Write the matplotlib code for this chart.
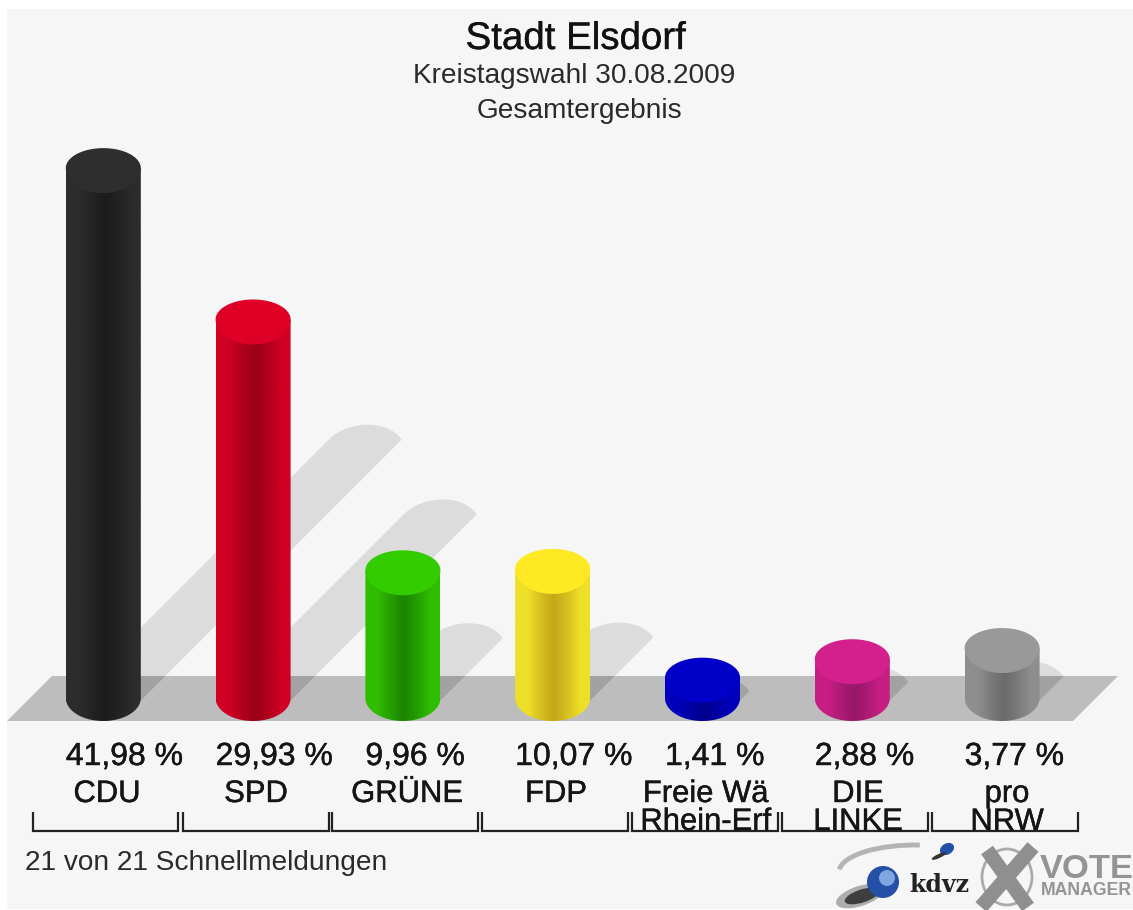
import numpy as np
import matplotlib
matplotlib.use("Agg")
import matplotlib.pyplot as plt
import matplotlib.patheffects as pe
from matplotlib.patches import Ellipse, Polygon, PathPatch, Rectangle, Circle, Arc
from matplotlib.path import Path
from matplotlib.colors import to_rgb

# ---- data ----
parties = ["CDU", "SPD", "GRÜNE", "FDP", "Freie Wä\nRhein-Erf", "DIE\nLINKE", "pro\nNRW"]
values = [41.98, 29.93, 9.96, 10.07, 1.41, 2.88, 3.77]
value_labels = ["41,98 %", "29,93 %", "9,96 %", "10,07 %", "1,41 %", "2,88 %", "3,77 %"]
top_colors = ["#2e2e2e", "#df0027", "#33cc00", "#ffe922", "#0000c8", "#d4208c", "#999999"]
edge_colors = ["#2c2c2c", "#cf0024", "#2fbd00", "#eedf28", "#0000bc", "#c81e84", "#8e8e8e"]
mid_colors = ["#1c1c1c", "#9c0018", "#1c8600", "#c4a818", "#000090", "#98186a", "#6c6c6c"]
title = "Stadt Elsdorf"
subtitle = "Kreistagswahl 30.08.2009"
subtitle2 = "Gesamtergebnis"
footer = "21 von 21 Schnellmeldungen"

W, H = 1133, 910
plt.rcParams["font.family"] = ["Liberation Sans", "DejaVu Sans"]
fig = plt.figure(figsize=(W / 100, H / 100), dpi=100, facecolor="white")

# pixel-space background axes
bg = fig.add_axes([0, 0, 1, 1], zorder=0)
bg.set_xlim(0, W); bg.set_ylim(H, 0); bg.axis("off")
bg.add_patch(Rectangle((7, 9), W - 7, 900, fc="#f6f6f6", ec="none"))
floor_xy = [(7, 721), (52, 676), (1118, 676), (1073, 721)]

# data axes: x = party index, y = percent
PXX, PXY = 149.8, 12.56   # pixels per category, pixels per percent
X0, Y0 = 103.3, 695.4
ax = fig.add_axes([0, 0, 1, 1], zorder=1)
ax.patch.set_alpha(0)
ax.axis("off")
xlim = (-X0 / PXX, (W - X0) / PXX)
ylim = ((Y0 - H) / PXY, Y0 / PXY)
hw = 37.5 / PXX
cap_up = 20 / PXY
cap_dn = 25 / PXY
base_v = (Y0 - 698) / PXY
base_eh = 23 / PXY


def sx(px):
    return px / PXX


def sy(px):
    return px / PXY


floor_data = [((x - X0) / PXX, (Y0 - y) / PXY) for x, y in floor_xy]
shadow_base = (Y0 - 700) / PXY

# shadows
for i, v in enumerate(values):
    d = 6.2 * v + 1
    cx_t, cy_t = i + sx(d), shadow_base + sy(d)
    verts = [(i - sx(36), shadow_base - sy(1)),
             (cx_t - sx(36), cy_t - sy(1)),
             (cx_t - sx(16), cy_t + sy(19)),
             (cx_t + sx(24), cy_t + sy(19)),
             (cx_t + sx(37), cy_t - sy(1)),
             (i + sx(37), shadow_base - sy(1)),
             (i - sx(36), shadow_base - sy(1))]
    codes = [Path.MOVETO, Path.LINETO, Path.CURVE4, Path.CURVE4, Path.CURVE4, Path.LINETO, Path.CLOSEPOLY]
    p = Path(verts, codes)
    ax.add_patch(PathPatch(p, fc="#dcdcdc", ec="none", zorder=1))
    dark = PathPatch(p, fc="#a2a2a2", ec="none", zorder=3)
    ax.add_patch(dark)
    shadow_floor = Polygon(floor_data, closed=True, fc="none", ec="none")
    ax.add_patch(shadow_floor)
    dark.set_clip_path(shadow_floor)

# floor
ax.add_patch(Polygon(floor_data, closed=True, fc="#bdbdbd", ec="none", zorder=2))

# cylinders
for i, v in enumerate(values):
    edge, mid = np.array(to_rgb(edge_colors[i])), np.array(to_rgb(mid_colors[i]))
    t = np.linspace(-1, 1, 151) - 0.04
    f = np.clip(np.abs(t) / 0.7, 0, 1)[:, None] ** 1.2
    grad = (mid + (edge - mid) * f)[None, :, :]
    th = np.linspace(0, np.pi, 60)
    outline = [(i - hw, v), (i - hw, base_v)]
    outline += [(i - hw * np.cos(a), base_v - base_eh * np.sin(a)) for a in th]
    outline += [(i + hw, v), (i - hw, v)]
    body = Polygon(outline, closed=True, fc="none", ec="none", zorder=4)
    ax.add_patch(body)
    im = ax.imshow(grad, extent=(i - hw, i + hw, base_v - base_eh, v), aspect="auto", zorder=4)
    im.set_clip_path(body)
    a = np.linspace(0, 2 * np.pi, 120)
    cap = [(i + hw * np.cos(b), v + (cap_up if np.sin(b) > 0 else cap_dn) * np.sin(b)) for b in a]
    ax.add_patch(Polygon(cap, closed=True, fc=top_colors[i], ec="none", zorder=5))

ax.set_xlim(*xlim)
ax.set_ylim(*ylim)

# texts in pixel space
ov = fig.add_axes([0, 0, 1, 1], zorder=2)
ov.patch.set_alpha(0)
ov.set_xlim(0, W); ov.set_ylim(H, 0); ov.axis("off")
tc = "#151515"
heavy = [pe.withStroke(linewidth=0.3, foreground=tc)]
ov.text(576, 49, title, ha="center", va="baseline", fontsize=27.7, color="#111111",
        path_effects=[pe.withStroke(linewidth=0.25, foreground="#111111")])
ov.text(574, 83, subtitle, ha="center", va="baseline", fontsize=20.2, color="#2a2a2a")
ov.text(579, 118, subtitle2, ha="center", va="baseline", fontsize=20.2, color="#2a2a2a")
ov.text(25, 870, footer, ha="left", va="baseline", fontsize=20.2, color="#2a2a2a")

bx0 = [33, 183, 332, 482, 632, 782, 932]
bx1 = [178, 329, 478, 628, 778, 928, 1078]
name_cx = [107, 256, 407, 556, 706, 858, 1007]
for i, (vl, name) in enumerate(zip(value_labels, parties)):
    ov.text(X0 + PXX * i - 37.5, 765, vl, ha="left", va="baseline", fontsize=23, color=tc, path_effects=heavy)
    for k, ln in enumerate(name.split("\n")):
        ov.text(name_cx[i], 802 + 28 * k, ln, ha="center", va="baseline", fontsize=22.3, color=tc, path_effects=heavy)
    ov.plot([bx0[i], bx0[i], bx1[i], bx1[i]], [812, 831, 831, 812], color="#222222", lw=1.6,
            solid_joinstyle="miter", solid_capstyle="butt")

# kdvz logo
ov.add_patch(Arc((915, 872), 152, 54, theta1=182, theta2=280, color="#b4b4b4", lw=3.5))
ov.add_patch(Ellipse((860, 896), 50, 20, angle=-18, fc="#555555", ec="none", alpha=0.45))
ov.add_patch(Ellipse((862, 896), 36, 13, angle=-18, fc="#222222", ec="none", alpha=0.8))
ov.add_patch(Circle((883, 882), 16, fc="#2450a8", ec="none"))
ov.add_patch(Circle((887, 878), 8, fc="#7fa6de", ec="none"))
ov.add_patch(Ellipse((947, 849), 15, 11, angle=-30, fc="#2450a8", ec="none"))
ov.add_patch(Ellipse((939, 856), 16, 4, angle=-25, fc="#333333", ec="none"))
ov.text(939, 892, "kdvz", ha="center", va="baseline", fontsize=17, fontweight="bold",
        family="DejaVu Serif", color="#222222")

# Vote manager logo
ov.add_patch(Ellipse((1007, 877), 50, 56, fc="none", ec="#aaaaaa", lw=2))
ov.plot([987, 1028], [850, 907], color="#8f8f8f", lw=10.5, solid_capstyle="butt")
ov.plot([1033, 981], [847, 907], color="#8f8f8f", lw=10.5, solid_capstyle="butt")
ov.text(1040, 878, "VOTE", ha="left", va="baseline", fontsize=24.8, fontweight="bold", color="#949494")
ov.text(1041, 895, "MANAGER", ha="left", va="baseline", fontsize=12.7, fontweight="bold", color="#949494")

fig.savefig("out.png", dpi=100, facecolor="white")
